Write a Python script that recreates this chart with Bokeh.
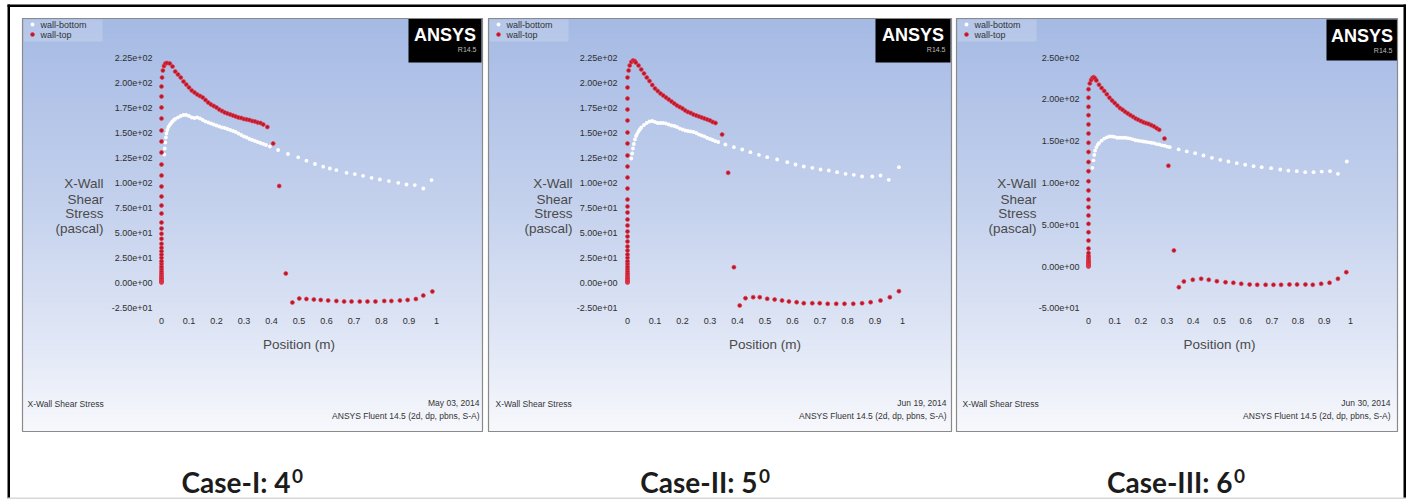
from bokeh.plotting import figure
from bokeh.models import Range1d, LinearAxis, FixedTicker
from bokeh.embed import file_html
from bokeh.resources import INLINE
from bokeh.core.properties import value

# ---------------- data ----------------
series_names = ["wall-bottom", "wall-top"]
case_titles = ["Case-I: 4", "Case-II: 5", "Case-III: 6"]
case_sup = ["0", "0", "0"]
dates = ["May 03, 2014", "Jun 19, 2014", "Jun 30, 2014"]
footer_left = "X-Wall Shear Stress"
footer_right = "ANSYS Fluent 14.5 (2d, dp, pbns, S-A)"
y_label_lines = ["X-Wall", "Shear", "Stress", "(pascal)"]
x_label = "Position (m)"

x_ticks = [0, 0.1, 0.2, 0.3, 0.4, 0.5, 0.6, 0.7, 0.8, 0.9, 1]
x_tick_labels = ["0", "0.1", "0.2", "0.3", "0.4", "0.5", "0.6", "0.7", "0.8", "0.9", "1"]
y_ticks_a = [-25, 0, 25, 50, 75, 100, 125, 150, 175, 200, 225]
y_tick_labels_a = ["-2.50e+01", "0.00e+00", "2.50e+01", "5.00e+01", "7.50e+01", "1.00e+02",
                   "1.25e+02", "1.50e+02", "1.75e+02", "2.00e+02", "2.25e+02"]
y_ticks_b = [-50, 0, 50, 100, 150, 200, 250]
y_tick_labels_b = ["-5.00e+01", "0.00e+00", "5.00e+01", "1.00e+02", "1.50e+02", "2.00e+02", "2.50e+02"]

# Case I (4 deg)  (position m, shear Pa)
c1_top = [(0, 0), (0, 0.5), (0, 1), (0, 1.5), (0, 2), (0, 3), (0, 4), (0, 5), (0, 6.5), (0, 8), (0, 9.5),
          (0, 11.5), (0, 13.7), (0, 16), (0, 18.7), (0, 21.3), (0, 24.7), (0, 28), (0, 31.3), (0, 34.7),
          (0, 38.7), (0, 43.7), (0, 48.7), (0, 54), (0, 60), (0, 69), (0, 77), (0, 86), (0, 96), (0, 107),
          (0, 118), (0, 130), (0, 141), (0, 152), (0, 164), (0, 175), (0, 186), (0, 196),
          (0.002, 205), (0.005, 212), (0.009, 216.5), (0.014, 219), (0.02, 219.5),
          (0.03, 219), (0.04, 216), (0.05, 211), (0.06, 208), (0.07, 205), (0.08, 201), (0.09, 198),
          (0.10, 195), (0.11, 192), (0.12, 190), (0.13, 188), (0.14, 186.5), (0.15, 185), (0.16, 182.5),
          (0.17, 180), (0.18, 178), (0.19, 176.5), (0.20, 175), (0.21, 173), (0.22, 171.5), (0.23, 170),
          (0.24, 169), (0.25, 168), (0.26, 167), (0.27, 166), (0.28, 165), (0.29, 164.5), (0.30, 163.5),
          (0.31, 163), (0.32, 162.5), (0.33, 161.5), (0.34, 161), (0.35, 160), (0.36, 159.5), (0.37, 158),
          (0.385, 155.5), (0.406, 139), (0.428, 96.5), (0.452, 9), (0.476, -20),
          (0.501, -16), (0.527, -16.5), (0.554, -17), (0.579, -17.5), (0.606, -18), (0.636, -18.5),
          (0.664, -19), (0.691, -19), (0.721, -19), (0.749, -19), (0.778, -19), (0.810, -18.5),
          (0.836, -18.5), (0.867, -18), (0.895, -17.5), (0.925, -16.5), (0.952, -13), (0.985, -9)]
c1_bot = [(0.010, 128), (0.012, 134), (0.014, 140), (0.016, 145), (0.018, 149), (0.021, 152.5),
          (0.025, 155.5), (0.03, 157.6), (0.035, 159.5), (0.04, 161), (0.045, 162.5), (0.05, 163.5),
          (0.06, 165), (0.07, 166.5), (0.08, 167.5), (0.09, 167.5), (0.10, 166.5), (0.11, 165),
          (0.12, 164.5), (0.13, 165), (0.14, 164), (0.15, 162.5), (0.16, 161), (0.17, 160), (0.18, 159),
          (0.19, 158), (0.20, 157), (0.21, 156), (0.22, 155), (0.23, 154.5), (0.24, 153.5), (0.25, 152.5),
          (0.26, 151.5), (0.27, 150.5), (0.28, 149), (0.29, 147.5), (0.30, 146), (0.31, 145), (0.32, 143.5),
          (0.33, 142.5), (0.34, 141.5), (0.35, 140.5), (0.36, 139.5), (0.37, 138.5), (0.38, 137.5),
          (0.394, 136), (0.424, 132.5), (0.46, 128.5), (0.497, 125.2), (0.527, 121.8), (0.558, 118.5),
          (0.588, 115.8), (0.612, 114), (0.636, 112.4), (0.673, 109.7), (0.703, 108.4), (0.733, 106.7),
          (0.764, 104.7), (0.794, 103), (0.827, 101.4), (0.861, 99.7), (0.891, 98), (0.921, 97.4),
          (0.952, 94), (0.982, 102.4)]

# Case II (5 deg)
c2_top = [(0, 0), (0, 0.5), (0, 1), (0, 1.5), (0, 2), (0, 3), (0, 4), (0, 5), (0, 6.5), (0, 8), (0, 9.5),
          (0, 11.5), (0, 13.7), (0, 16), (0, 18.7), (0, 21.3), (0, 24.7), (0, 28), (0, 32), (0, 36), (0, 41),
          (0, 46), (0, 51), (0, 57), (0, 63), (0, 70), (0, 76), (0, 83), (0, 94), (0, 105), (0, 116),
          (0, 127), (0, 139), (0, 150), (0, 162), (0, 173), (0, 184), (0, 195), (0, 205),
          (0.004, 212), (0.008, 217), (0.014, 220.5), (0.02, 222), (0.026, 221.5),
          (0.03, 220), (0.04, 217), (0.05, 213), (0.06, 209), (0.07, 205), (0.08, 201.5), (0.09, 197.5),
          (0.10, 194), (0.11, 191.5), (0.12, 189), (0.13, 187), (0.14, 185), (0.15, 183), (0.16, 181),
          (0.17, 179), (0.18, 177), (0.19, 175.5), (0.20, 174), (0.21, 172), (0.22, 170.5), (0.23, 169.5),
          (0.24, 168), (0.25, 167), (0.26, 166), (0.27, 165), (0.28, 164), (0.29, 163), (0.30, 162),
          (0.31, 160.5), (0.32, 159.5), (0.344, 148), (0.366, 109.7), (0.387, 15.3), (0.408, -23),
          (0.429, -15.7), (0.457, -14.7), (0.481, -14.7), (0.508, -16.3), (0.535, -17), (0.562, -18),
          (0.587, -19), (0.615, -19.7), (0.641, -20.7), (0.672, -20.7), (0.699, -20.7), (0.728, -21.3),
          (0.759, -21.3), (0.789, -21.3), (0.821, -21.3), (0.853, -20.7), (0.884, -19.7), (0.92, -18),
          (0.954, -14.7), (0.987, -8.7)]
c2_bot = [(0.014, 124), (0.017, 129), (0.020, 134), (0.023, 138.5), (0.027, 143), (0.031, 146.5),
          (0.035, 148.7), (0.04, 151), (0.045, 153), (0.05, 155), (0.06, 157.5), (0.07, 159.5), (0.08, 161),
          (0.09, 161.5), (0.10, 160.5), (0.11, 159.5), (0.12, 159.5), (0.13, 159.5), (0.14, 159),
          (0.15, 158), (0.16, 157), (0.17, 156.5), (0.18, 155.5), (0.19, 154), (0.20, 153), (0.21, 152),
          (0.22, 151.5), (0.23, 151), (0.24, 150.5), (0.25, 149.5), (0.26, 148), (0.27, 147), (0.28, 146),
          (0.29, 144.5), (0.30, 143.5), (0.31, 142.5), (0.32, 141.3), (0.33, 140.5),
          (0.356, 138), (0.387, 135.3), (0.417, 133), (0.447, 130.3), (0.478, 127.7), (0.508, 125.3),
          (0.544, 123), (0.581, 120.3), (0.611, 118), (0.641, 116), (0.672, 114.7), (0.702, 113),
          (0.732, 112), (0.762, 110.3), (0.793, 108.7), (0.823, 107.7), (0.853, 106), (0.89, 106),
          (0.92, 107), (0.95, 102.7), (0.987, 115.3)]

# Case III (6 deg)
c3_top = [(0, 0), (0, 0.5), (0, 1), (0, 1.5), (0, 2), (0, 3), (0, 4), (0, 5), (0, 6), (0, 7.5), (0, 9),
          (0, 11), (0, 13), (0, 16), (0, 21.5), (0, 31), (0, 41), (0, 51), (0, 61), (0, 71), (0, 80),
          (0, 91), (0, 102), (0, 114), (0, 125), (0, 137), (0, 148), (0, 159), (0, 170), (0, 181),
          (0, 191), (0, 202), (0, 212),
          (0.005, 219), (0.01, 223), (0.015, 225.5), (0.02, 226.5), (0.025, 225),
          (0.03, 222.5), (0.04, 217.5), (0.05, 213.5), (0.06, 210), (0.07, 206), (0.08, 202), (0.09, 198.5),
          (0.10, 195.5), (0.11, 192.5), (0.12, 189.5), (0.13, 187.5), (0.14, 185), (0.15, 183), (0.16, 181),
          (0.17, 179), (0.18, 177), (0.19, 175.5), (0.20, 174), (0.21, 172.5), (0.22, 171.5), (0.23, 170.5),
          (0.24, 169), (0.25, 167.5), (0.26, 165.5), (0.27, 163.5), (0.29, 153), (0.305, 120.5),
          (0.326, 19.2), (0.345, -24.8),
          (0.364, -17.9), (0.398, -15.9), (0.43, -14.7), (0.459, -15.9), (0.49, -17.6), (0.523, -18.8),
          (0.553, -19.5), (0.583, -20.7), (0.615, -21.5), (0.644, -21.9), (0.676, -21.9), (0.706, -21.9),
          (0.735, -21.9), (0.767, -21.5), (0.796, -21.5), (0.828, -21.5), (0.856, -21.9), (0.888, -20.7),
          (0.92, -19.5), (0.952, -14.7), (0.984, -6.8)]
c3_bot = [(0.015, 118), (0.019, 127), (0.022, 133.5), (0.025, 138.5), (0.03, 142.5), (0.035, 145.5),
          (0.04, 147.5), (0.05, 150.5), (0.06, 153), (0.07, 154.5), (0.08, 155.5), (0.09, 155.5), (0.10, 155),
          (0.11, 154), (0.12, 154), (0.13, 154), (0.14, 154), (0.15, 153.5), (0.16, 153), (0.17, 152),
          (0.18, 151), (0.19, 150.5), (0.20, 150), (0.21, 149.5), (0.22, 149), (0.23, 148.5), (0.24, 148),
          (0.25, 147.5), (0.26, 146.5), (0.27, 146), (0.28, 145), (0.29, 144.5), (0.30, 143.5), (0.31, 142.7),
          (0.344, 140), (0.375, 137.6), (0.407, 135.5), (0.439, 132.8), (0.471, 130), (0.503, 127.6),
          (0.534, 125.6), (0.566, 123.6), (0.598, 121.7), (0.63, 120), (0.661, 118.8), (0.697, 117.6),
          (0.732, 116), (0.763, 114.8), (0.795, 114), (0.827, 112.8), (0.859, 112.8), (0.89, 113.6),
          (0.922, 114), (0.952, 110.9), (0.986, 125.6)]

cases_top = [c1_top, c2_top, c3_top]
cases_bot = [c1_bot, c2_bot, c3_bot]
y_ticks_per_case = [(y_ticks_a, y_tick_labels_a), (y_ticks_a, y_tick_labels_a), (y_ticks_b, y_tick_labels_b)]

# ---------------- layout (picture pixels) ----------------
X0, X1, Y0, Y1 = 0, 1409, 0, 499
panels = [
    dict(left=22, right=482, top=18, bottom=431, x0=161, sx=275, y0=282, sy=1.0, ytr=152, ylr=103,
         logo=(408, 481, 18, 62), leg=32, fl=27, fr=479, cap=290, base=481),
    dict(left=488, right=951, top=18, bottom=431, x0=627, sx=275, y0=282, sy=1.0, ytr=617, ylr=572,
         logo=(875, 950, 18, 62), leg=498, fl=495, fr=946, cap=757, base=481),
    dict(left=956, right=1397, top=18, bottom=431, x0=1088, sx=262, y0=266, sy=0.836, ytr=1079, ylr=1036,
         logo=(1326, 1397, 19, 60), leg=966, fl=962, fr=1390, cap=1232, base=481),
]

p = figure(width=X1 - X0, height=Y1 - Y0, x_range=Range1d(X0, X1), y_range=Range1d(Y1, Y0),
           output_backend="svg", toolbar_location=None, min_border=0,
           x_axis_type=None, y_axis_type=None)
p.outline_line_color = None
p.background_fill_color = "white"
p.border_fill_color = "white"

xr_dict, yr_dict = {}, {}
for k, P in enumerate(panels):
    xr_dict[f"px{k}"] = Range1d(start=(X0 - P["x0"]) / P["sx"], end=(X1 - P["x0"]) / P["sx"])
    yr_dict[f"py{k}"] = Range1d(start=(P["y0"] - Y1) / P["sy"], end=(P["y0"] - Y0) / P["sy"])
p.extra_x_ranges = xr_dict
p.extra_y_ranges = yr_dict

stops = [(0.0, (165, 186, 228)), (0.45, (196, 209, 237)), (0.8, (226, 232, 246)), (1.0, (247, 248, 252))]


def grad(t):
    for (t0, c0), (t1, c1) in zip(stops[:-1], stops[1:]):
        if t <= t1:
            f = (t - t0) / (t1 - t0)
            return "#%02x%02x%02x" % tuple(int(round(a + (b - a) * f)) for a, b in zip(c0, c1))
    return "#%02x%02x%02x" % stops[-1][1]


RED_FILL, RED_LINE = "#b8162c", "#e8414f"
TXT = value("Liberation Sans")
for k, P in enumerate(panels):
    L, R, T, B = P["left"], P["right"], P["top"], P["bottom"]
    # gradient background (overlapping stripes to avoid seams)
    tops, bots, cols = [], [], []
    yy = T
    while yy < B:
        tops.append(yy)
        bots.append(min(yy + 3.8, B))
        cols.append(grad((yy + 1.5 - T) / (B - T)))
        yy += 3
    p.quad(left=L, right=R, top=tops, bottom=bots, fill_color=cols, line_color=None)
    # legend box
    p.quad(left=L + 1, right=L + 80, top=T + 1, bottom=T + 23, fill_color="white", fill_alpha=0.18,
           line_color=None)
    # ANSYS logo
    lx0, lx1, ly0, ly1 = P["logo"]
    p.quad(left=lx0, right=lx1, top=ly0, bottom=ly1, fill_color="black", line_color=None)
    p.text(x=[(lx0 + lx1) / 2], y=[ly0 + 16], text=["ANSYS"], text_align="center", text_baseline="middle",
           text_font=TXT, text_font_style="bold", text_font_size="18px", text_color="white")
    p.text(x=[lx1 - 5], y=[ly0 + 31], text=["R14.5"], text_align="right", text_baseline="middle",
           text_font=TXT, text_font_size="7px", text_color="#bbbbbb")

    xr, yr = f"px{k}", f"py{k}"
    bot = cases_bot[k]
    top = cases_top[k]
    p.scatter(x=[a for a, b in bot], y=[b for a, b in bot], x_range_name=xr, y_range_name=yr,
              size=3.8, fill_color="white", line_color=None)
    p.scatter(x=[a for a, b in top], y=[b for a, b in top], x_range_name=xr, y_range_name=yr,
              size=4, fill_color=RED_FILL, line_color=RED_LINE, line_width=0.7)

    # legend entries
    p.scatter(x=[P["leg"]], y=[T + 6], size=3.8, fill_color="white", line_color=None)
    p.scatter(x=[P["leg"]], y=[T + 16], size=4, fill_color=RED_FILL, line_color=RED_LINE, line_width=0.7)
    p.text(x=[P["leg"] + 8, P["leg"] + 8], y=[T + 6, T + 16], text=series_names, text_align="left",
           text_baseline="middle", text_font=TXT, text_font_size="9px", text_color="#333333")

    # axes
    yt, ytl = y_ticks_per_case[k]
    yax = LinearAxis(y_range_name=yr, fixed_location=P["ytr"], ticker=FixedTicker(ticks=yt),
                     major_label_overrides={t: s for t, s in zip(yt, ytl)})
    xax = LinearAxis(x_range_name=xr, fixed_location=317, ticker=FixedTicker(ticks=x_ticks), bounds=(0, 1),
                     major_label_overrides={t: s for t, s in zip(x_ticks, x_tick_labels)},
                     axis_label=x_label)
    for ax in (yax, xax):
        ax.axis_line_color = None
        ax.major_tick_line_color = None
        ax.minor_tick_line_color = None
        ax.major_tick_in = 0
        ax.major_tick_out = 0
        ax.major_label_standoff = 0
        ax.major_label_text_font = "Liberation Sans"
        ax.major_label_text_font_size = "9px"
        ax.major_label_text_color = "#2e2e2e"
    xax.axis_label_text_font = "Liberation Sans"
    xax.axis_label_text_font_style = "normal"
    xax.axis_label_text_font_size = "13.5px"
    xax.axis_label_text_color = "#4a4a4a"
    xax.axis_label_standoff = 10
    p.add_layout(yax, "left")
    p.add_layout(xax, "below")

    # y label lines
    p.text(x=[P["ylr"]] * 4, y=[183, 198.5, 213, 228], text=y_label_lines, text_align="right",
           text_baseline="middle", text_font=TXT, text_font_size="13.5px", text_color="#4a4a4a")

    # footer
    p.text(x=[P["fl"]], y=[403], text=[footer_left], text_align="left", text_baseline="middle",
           text_font=TXT, text_font_size="8.5px", text_color="#333333")
    p.text(x=[P["fr"], P["fr"]], y=[402, 415], text=[dates[k], footer_right], text_align="right",
           text_baseline="middle", text_font=TXT, text_font_size="8.5px", text_color="#333333")

    # panel frame
    p.quad(left=L, right=R, top=T, bottom=B, fill_color=None, line_color="#8a8a8a", line_width=1.2)

    # caption
    p.text(x=[P["cap"]], y=[P["base"]], text=[case_titles[k]], text_align="right",
           text_baseline="alphabetic", text_font=value("Lato"), text_font_style="bold",
           text_font_size="28px", text_color="#1c1c1c")
    p.text(x=[P["cap"] + 1.5], y=[P["base"] - 6], text=[case_sup[k]], text_align="left",
           text_baseline="alphabetic", text_font=value("Lato"), text_font_style="bold",
           text_font_size="19px", text_color="#1c1c1c")

# outer frame: black left/top/right edges, light grey bottom
p.quad(left=[7, 7, 1403], right=[9.5, 1405.5, 1405.5], top=[4, 4, 4], bottom=[498, 6.5, 498],
       fill_color="black", line_color=None)
p.quad(left=[7], right=[1405.5], top=[497], bottom=[498.5], fill_color="#d8d8d8", line_color=None)

open("out.html", "w").write(file_html(p, INLINE))
